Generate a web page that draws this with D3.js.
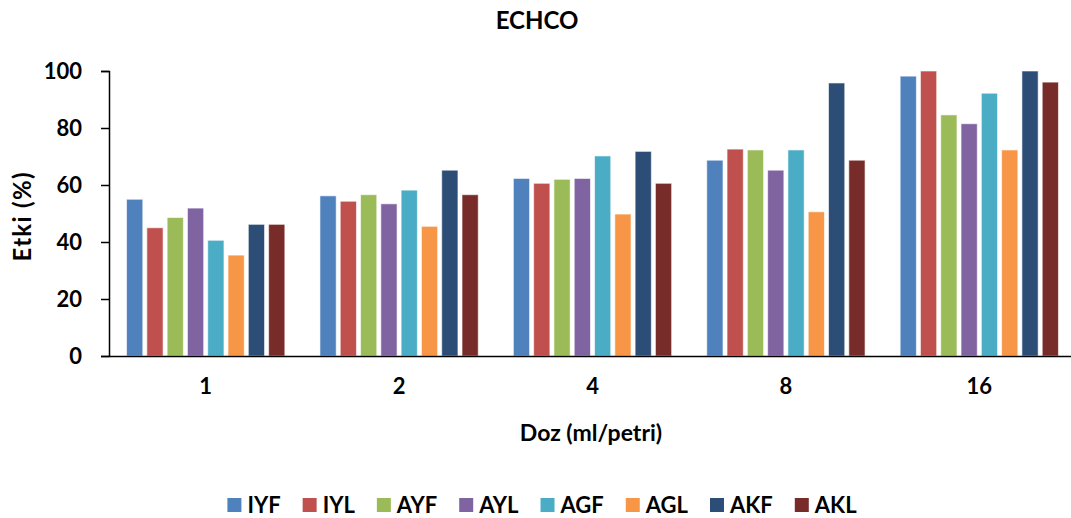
<!DOCTYPE html>
<html>
<head>
<meta charset="utf-8">
<script src="https://cdn.jsdelivr.net/npm/d3@7"></script>
<style>
  body { margin: 0; background: #fff; }
  svg { display: block; font-family: Lato, "Open Sans", sans-serif; font-weight: bold; }
</style>
</head>
<body>
<svg width="1071" height="518"></svg>
<script>
var doses = ["1", "2", "4", "8", "16"];
var seriesNames = ["IYF", "IYL", "AYF", "AYL", "AGF", "AGL", "AKF", "AKL"];
var colors = ["#4F81BD", "#C0504D", "#9BBB59", "#8064A2", "#4BACC6", "#F79646", "#2C4D75", "#772C2A"];
var yTicks = [0, 20, 40, 60, 80, 100];

// one array per series, values for doses 1, 2, 4, 8, 16
var IYF = [55.0, 56.2, 62.3, 68.7, 98.2];
var IYL = [45.0, 54.3, 60.6, 72.6, 100];
var AYF = [48.6, 56.6, 62.0, 72.3, 84.6];
var AYL = [51.9, 53.4, 62.3, 65.2, 81.5];
var AGF = [40.6, 58.2, 70.2, 72.3, 92.2];
var AGL = [35.4, 45.5, 49.8, 50.6, 72.3];
var AKF = [46.2, 65.2, 71.8, 95.8, 100];
var AKL = [46.2, 56.6, 60.6, 68.7, 96.1];

var values = [IYF, IYL, AYF, AYL, AGF, AGL, AKF, AKL];

var svg = d3.select("svg"),
    plotLeft = 109, plotRight = 1076,
    plotTop = 71, plotBottom = 356;

var x0 = d3.scaleBand().domain(doses).range([plotLeft, plotRight]).padding(0);
var x1 = d3.scaleBand().domain(seriesNames).range([0, x0.bandwidth()])
    .paddingInner(0.2).paddingOuter(0.865);
var y = d3.scaleLinear().domain([0, 100]).range([plotBottom, plotTop]);

// title
svg.append("text")
    .attr("x", 537).attr("y", 29)
    .attr("text-anchor", "middle")
    .style("font-size", "24px")
    .text("ECHCO");

// bars
var rows = [];
doses.forEach(function(d, i) {
  seriesNames.forEach(function(s, j) {
    rows.push({dose: d, name: s, value: values[j][i], color: colors[j]});
  });
});

svg.append("g").selectAll("rect")
    .data(rows)
    .enter().append("rect")
    .attr("x", function(d) { return x0(d.dose) + x1(d.name); })
    .attr("y", function(d) { return y(d.value); })
    .attr("width", x1.bandwidth())
    .attr("height", function(d) { return plotBottom - y(d.value); })
    .attr("fill", function(d) { return d.color; })
    .attr("stroke", "#fff")
    .attr("stroke-opacity", 0.6)
    .attr("stroke-width", 1);

// y axis
var yAxis = d3.axisLeft(y).tickValues(yTicks).tickSize(8).tickPadding(19);
var gy = svg.append("g")
    .attr("transform", "translate(" + plotLeft + ",0)")
    .call(yAxis);
gy.select(".domain").attr("stroke", "#000").attr("stroke-width", 1.5);
gy.selectAll(".tick line").attr("stroke", "#000").attr("stroke-width", 1.5);
gy.selectAll(".tick text")
    .style("font-size", "22px").style("font-family", "Lato, sans-serif")
    .style("font-weight", "bold").attr("fill", "#000");

// x axis
var xAxis = d3.axisBottom(x0).tickSize(0).tickPadding(22);
var gx = svg.append("g")
    .attr("transform", "translate(0," + plotBottom + ")")
    .call(xAxis);
gx.select(".domain").attr("stroke", "#000").attr("stroke-width", 1.5);
gx.selectAll(".tick text")
    .style("font-size", "22px").style("font-family", "Lato, sans-serif")
    .style("font-weight", "bold").attr("fill", "#000");

// axis titles
svg.append("text")
    .attr("transform", "translate(31,217) rotate(-90)")
    .attr("text-anchor", "middle")
    .style("font-size", "24px")
    .attr("textLength", 89)
    .text("Etki (%)");

svg.append("text")
    .attr("x", 591).attr("y", 441)
    .attr("text-anchor", "middle")
    .style("font-size", "23px")
    .text("Doz (ml/petri)");

// legend
var legend = svg.append("g");
var lx = 0;
seriesNames.forEach(function(s, j) {
  var item = legend.append("g").attr("transform", "translate(" + lx + ",0)");
  item.append("rect").attr("x", 0).attr("y", -7).attr("width", 14).attr("height", 14)
      .attr("fill", colors[j]);
  var t = item.append("text").attr("x", 20).attr("y", 8)
      .style("font-size", "22px").text(s);
  lx += 20 + t.node().getComputedTextLength() + 22;
});
lx -= 22;
legend.attr("transform", "translate(" + (542 - lx / 2) + ",505)");
</script>
</body>
</html>
